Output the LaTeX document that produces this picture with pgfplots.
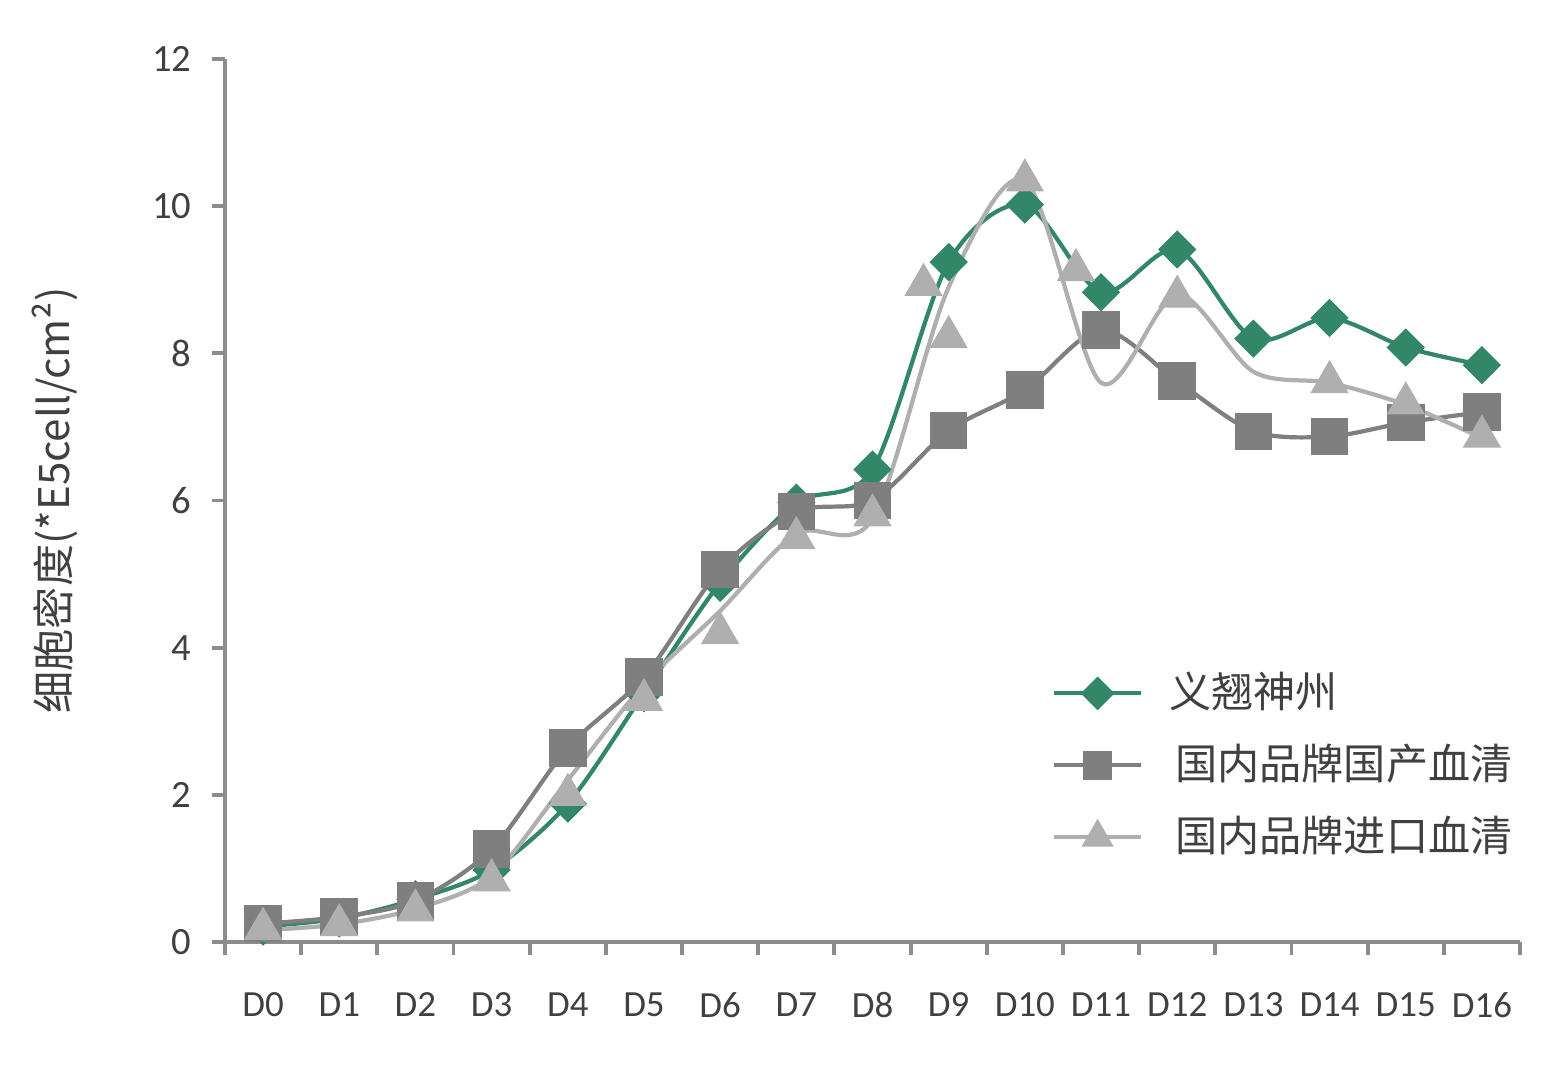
\documentclass[border=0pt]{standalone}
\usepackage{pgfplots}
\pgfplotsset{compat=1.18}
\usepackage{fontspec}
\setmainfont{Carlito}
\newfontfamily\cjk{Noto Sans CJK SC}
\definecolor{cgreen}{RGB}{50,135,105}
\definecolor{cdark}{RGB}{127,127,127}
\definecolor{clight}{RGB}{175,175,175}
\definecolor{caxis}{RGB}{140,140,140}
\definecolor{ctext}{RGB}{64,64,64}

\pgfplotstableread{
x y
0 0.21
1 0.32
2 0.58
3 0.98
4 1.88
5 3.38
6 4.88
7 5.97
8 6.42
9 9.24
10 10.02
11 8.83
12 9.41
13 8.20
14 8.48
15 8.08
16 7.84
}\green
\pgfplotstableread{
x y
0 0.25
1 0.34
2 0.56
3 1.26
4 2.64
5 3.60
6 5.06
7 5.85
8 6.00
9 6.95
10 7.50
11 8.32
12 7.62
13 6.94
14 6.87
15 7.06
16 7.20
}\dark
\pgfplotstableread{
x y
0 0.16
1 0.24
2 0.45
3 0.90
4 2.20
5 3.50
6 4.50
7 5.55
8 5.75
9 8.90
10 10.35
11 7.60
12 8.80
13 7.75
14 7.60
15 7.30
16 6.85
}\lightline
\pgfplotstableread{
x y
0 0.18
1 0.23
2 0.43
3 0.84
4 2.00
5 3.29
6 4.20
7 5.49
8 5.80
8.67 8.93
9 8.22
10 10.35
10.67 9.13
12 8.77
14 7.61
15 7.32
16 6.87
}\lightmarks

\begin{document}
\begin{tikzpicture}
\path[use as bounding box] (0,0) rectangle (15.57cm,10.83cm);
\begin{axis}[
  at={(2.25cm,1.41cm)}, anchor=south west,
  scale only axis, width=12.95cm, height=8.83cm,
  xmin=-0.5, xmax=16.5, ymin=0, ymax=12,
  axis x line*=bottom, axis y line*=left,
  axis line style={draw=caxis, line width=1.1pt},
  tick style={draw=caxis, line width=1.1pt},
  major tick length=1.3mm, tick align=outside,
  xtick={-0.5,0.5,1.5,2.5,3.5,4.5,5.5,6.5,7.5,8.5,9.5,10.5,11.5,12.5,13.5,14.5,15.5,16.5},
  x tick label as interval,
  xticklabels={D0,D1,D2,D3,D4,D5,D6,D7,D8,D9,D10,D11,D12,D13,D14,D15,D16},
  ytick={0,2,4,6,8,10,12},
  tick label style={font=\fontsize{10.5}{12}\selectfont, text=ctext},
  xticklabel style={yshift=-2.5mm},
  yticklabel style={xshift=-0.8mm, font=\fontsize{11}{13}\selectfont},
  /pgf/number format/assume math mode=true,
  ylabel={\cjk 细胞密度(*E5cell/cm²)},
  ylabel style={at={(axis description cs:-0.1313,0.5)}, anchor=center, font=\fontsize{12}{14}\selectfont, text=ctext},
  clip=false,
  legend cell align=left,
  legend style={draw=none, fill=none, inner sep=0pt, outer sep=0pt,
    at={(rel axis cs:0.6386,0.3082)}, anchor=north west,
    row sep=2.5mm, column sep=2.6mm,
    font=\cjk\fontsize{12}{14}\selectfont, text=ctext,
    nodes={inner sep=0pt, text height=3.8mm, text depth=0.9mm}},
  legend image code/.code={\draw[mark repeat=2,mark phase=2,#1] plot coordinates {(0cm,0cm) (0.435cm,0cm) (0.87cm,0cm)};},
]
\addplot[color=cgreen, line width=1.2pt, smooth, tension=0.5, mark=square*, mark size=3.7pt, mark options={rotate=45, solid, fill=cgreen, draw=cgreen, line width=0.3pt}, forget plot] table[x=x,y=y] {\green};
\addplot[color=cdark, line width=1.2pt, smooth, tension=0.5, mark=square*, mark size=5.2pt, mark options={solid, fill=cdark, draw=cdark, line width=0.3pt}, forget plot] table[x=x,y=y] {\dark};
\addplot[color=clight, line width=1.2pt, smooth, tension=0.5, no marks, forget plot] table[x=x,y=y] {\lightline};
\addplot[only marks, mark=triangle*, mark size=6pt, mark options={solid, fill=clight, draw=clight, line width=0.3pt}, forget plot] table[x=x,y=y] {\lightmarks};
\addlegendimage{color=cgreen, line width=1.2pt, mark=square*, mark size=2.8pt, mark options={rotate=45, solid, fill=cgreen, draw=cgreen}}
\addlegendentry{义翘神州}
\addlegendimage{color=cdark, line width=1.2pt, mark=square*, mark size=3.5pt, mark options={solid, fill=cdark, draw=cdark}}
\addlegendentry{\hspace{0.6mm}国内品牌国产血清}
\addlegendimage{color=clight, line width=1.2pt, mark=triangle*, mark size=4.1pt, mark options={solid, fill=clight, draw=clight}}
\addlegendentry{\hspace{0.6mm}国内品牌进口血清}
\end{axis}
\end{tikzpicture}
\end{document}
